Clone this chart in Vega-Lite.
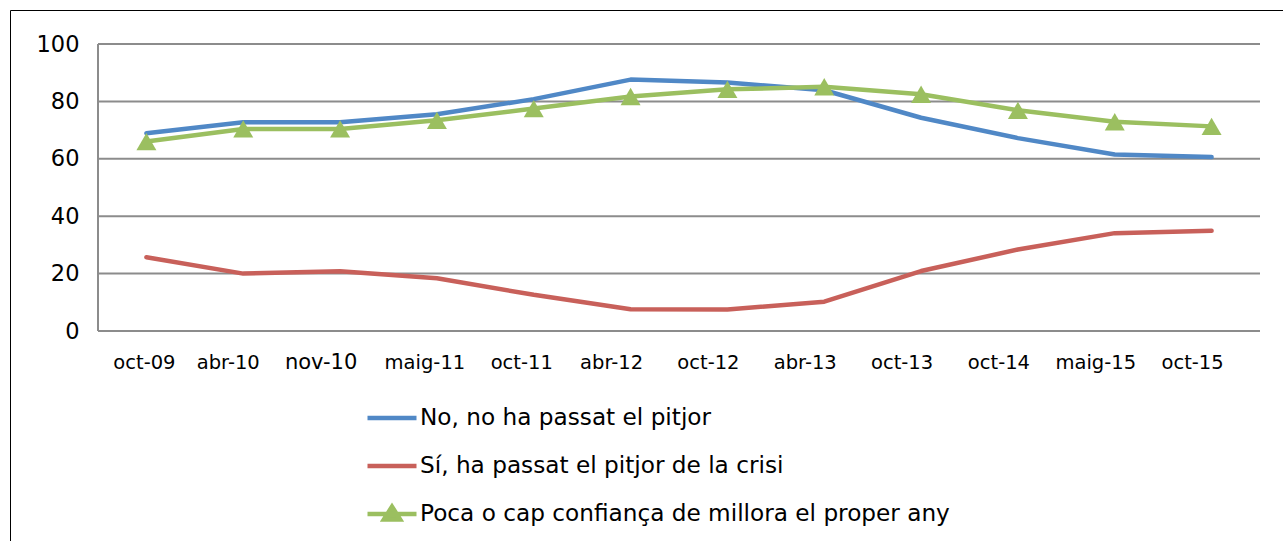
{
  "$schema": "https://vega.github.io/schema/vega-lite/v6.json",
  "width": 1274,
  "height": 532,
  "autosize": "none",
  "padding": {"left": 10, "top": 10, "right": -1, "bottom": -1},
  "background": "white",
  "config": {
    "view": {"stroke": "#000000", "strokeWidth": 1},
    "font": "DejaVu Sans"
  },
  "datasets": {
    "series": [
      {"periode": "oct-09", "serie": "No, no ha passat el pitjor", "valor": 68.9},
      {"periode": "abr-10", "serie": "No, no ha passat el pitjor", "valor": 72.7},
      {"periode": "nov-10", "serie": "No, no ha passat el pitjor", "valor": 72.7},
      {"periode": "maig-11", "serie": "No, no ha passat el pitjor", "valor": 75.5},
      {"periode": "oct-11", "serie": "No, no ha passat el pitjor", "valor": 80.8},
      {"periode": "abr-12", "serie": "No, no ha passat el pitjor", "valor": 87.6},
      {"periode": "oct-12", "serie": "No, no ha passat el pitjor", "valor": 86.6},
      {"periode": "abr-13", "serie": "No, no ha passat el pitjor", "valor": 83.9},
      {"periode": "oct-13", "serie": "No, no ha passat el pitjor", "valor": 74.3},
      {"periode": "oct-14", "serie": "No, no ha passat el pitjor", "valor": 67.2},
      {"periode": "maig-15", "serie": "No, no ha passat el pitjor", "valor": 61.5},
      {"periode": "oct-15", "serie": "No, no ha passat el pitjor", "valor": 60.6},
      {"periode": "oct-09", "serie": "Sí, ha passat el pitjor de la crisi", "valor": 25.7},
      {"periode": "abr-10", "serie": "Sí, ha passat el pitjor de la crisi", "valor": 20.0},
      {"periode": "nov-10", "serie": "Sí, ha passat el pitjor de la crisi", "valor": 20.8},
      {"periode": "maig-11", "serie": "Sí, ha passat el pitjor de la crisi", "valor": 18.4},
      {"periode": "oct-11", "serie": "Sí, ha passat el pitjor de la crisi", "valor": 12.6},
      {"periode": "abr-12", "serie": "Sí, ha passat el pitjor de la crisi", "valor": 7.6},
      {"periode": "oct-12", "serie": "Sí, ha passat el pitjor de la crisi", "valor": 7.5},
      {"periode": "abr-13", "serie": "Sí, ha passat el pitjor de la crisi", "valor": 10.2},
      {"periode": "oct-13", "serie": "Sí, ha passat el pitjor de la crisi", "valor": 20.9},
      {"periode": "oct-14", "serie": "Sí, ha passat el pitjor de la crisi", "valor": 28.4},
      {"periode": "maig-15", "serie": "Sí, ha passat el pitjor de la crisi", "valor": 34.1},
      {"periode": "oct-15", "serie": "Sí, ha passat el pitjor de la crisi", "valor": 34.9},
      {"periode": "oct-09", "serie": "Poca o cap confiança de millora el proper any", "valor": 66.0},
      {"periode": "abr-10", "serie": "Poca o cap confiança de millora el proper any", "valor": 70.4},
      {"periode": "nov-10", "serie": "Poca o cap confiança de millora el proper any", "valor": 70.4},
      {"periode": "maig-11", "serie": "Poca o cap confiança de millora el proper any", "valor": 73.4},
      {"periode": "oct-11", "serie": "Poca o cap confiança de millora el proper any", "valor": 77.5},
      {"periode": "abr-12", "serie": "Poca o cap confiança de millora el proper any", "valor": 81.7},
      {"periode": "oct-12", "serie": "Poca o cap confiança de millora el proper any", "valor": 84.2},
      {"periode": "abr-13", "serie": "Poca o cap confiança de millora el proper any", "valor": 85.1},
      {"periode": "oct-13", "serie": "Poca o cap confiança de millora el proper any", "valor": 82.5},
      {"periode": "oct-14", "serie": "Poca o cap confiança de millora el proper any", "valor": 76.9},
      {"periode": "maig-15", "serie": "Poca o cap confiança de millora el proper any", "valor": 72.9},
      {"periode": "oct-15", "serie": "Poca o cap confiança de millora el proper any", "valor": 71.3}
    ],
    "grid": [{"v": 0}, {"v": 20}, {"v": 40}, {"v": 60}, {"v": 80}, {"v": 100}]
  },
  "layer": [
    {
      "data": {"name": "grid"},
      "mark": {"type": "rule", "color": "#8C8C8C", "strokeWidth": 2},
      "encoding": {
        "x": {"datum": "oct-09", "type": "ordinal", "bandPosition": 0},
        "x2": {"datum": "oct-15", "bandPosition": 1},
        "y": {
          "field": "v",
          "type": "quantitative",
          "scale": {"domain": [-73.52, 111.85], "nice": false, "zero": false},
          "axis": {
            "orient": "left",
            "offset": -88,
            "title": null,
            "values": [0, 20, 40, 60, 80, 100],
            "domain": false,
            "ticks": false,
            "tickSize": 0,
            "grid": false,
            "labelPadding": 19,
            "labelColor": "#000000",
            "labelFont": "DejaVu Sans",
            "labelFontSize": 22.5
          }
        }
      }
    },
    {
      "data": {"values": [{"a": 0, "b": 100}]},
      "mark": {"type": "rule", "color": "#8C8C8C", "strokeWidth": 2},
      "encoding": {
        "x": {"datum": "oct-09", "type": "ordinal", "bandPosition": 0},
        "y": {"field": "a", "type": "quantitative", "title": null},
        "y2": {"field": "b"}
      }
    },
    {
      "data": {"name": "series"},
      "mark": {"type": "line", "strokeWidth": 4.5, "strokeCap": "round", "strokeJoin": "round"},
      "encoding": {
        "x": {
          "field": "periode",
          "type": "ordinal",
          "bandPosition": 0.5,
          "scale": {
            "type": "band",
            "domain": ["oct-09", "abr-10", "nov-10", "maig-11", "oct-11", "abr-12", "oct-12", "abr-13", "oct-13", "oct-14", "maig-15", "oct-15"],
            "paddingInner": 0,
            "paddingOuter": 0.5783,
            "align": 0.7857
          },
          "axis": {
            "orient": "bottom",
            "offset": -211,
            "bandPosition": 0.5,
            "title": null,
            "domain": false,
            "ticks": false,
            "tickSize": 0,
            "grid": false,
            "labelAngle": 0,
            "labelAlign": "center",
            "labelPadding": 31,
            "labelColor": "#000000",
            "labelFont": "DejaVu Sans",
            "labelFontSize": {"condition": {"test": "datum.value === 'nov-10'", "value": 21}, "value": 19.5},
            "labelOffset": {
              "condition": [
                {"test": "datum.value === 'oct-09'", "value": -2},
                {"test": "datum.value === 'abr-10'", "value": -15},
                {"test": "datum.value === 'maig-11' || datum.value === 'oct-11'", "value": -12}
              ],
              "value": -19
            }
          }
        },
        "y": {"field": "valor", "type": "quantitative", "title": null},
        "color": {
          "field": "serie",
          "type": "nominal",
          "scale": {
            "domain": ["No, no ha passat el pitjor", "Sí, ha passat el pitjor de la crisi", "Poca o cap confiança de millora el proper any"],
            "range": ["#5088C6", "#C8605A", "#9BBF60"]
          },
          "legend": {
            "orient": "none",
            "legendX": 355,
            "legendY": 381,
            "direction": "vertical",
            "title": null,
            "padding": 0,
            "rowPadding": 9,
            "labelOffset": 1,
            "labelFont": "DejaVu Sans",
            "labelFontSize": 23.2,
            "labelColor": "#000000",
            "labelLimit": 800,
            "symbolSize": 2401,
            "symbolStrokeWidth": 4.5,
            "symbolType": "M-1,0H1",
            "encode": {
              "symbols": {
                "update": {
                  "shape": {"signal": "datum.value === 'Poca o cap confiança de millora el proper any' ? 'M-1,0H1M-0.33,0.22L0,-0.3L0.33,0.22Z' : 'M-1,0H1'"},
                  "fill": {"value": "#9BBF60"},
                  "strokeWidth": {"value": 4.5}
                }
              }
            }
          }
        }
      }
    },
    {
      "data": {"name": "series"},
      "transform": [{"filter": "datum.serie === 'Poca o cap confiança de millora el proper any'"}],
      "mark": {"type": "point", "shape": "triangle-up", "filled": true, "size": 400, "opacity": 1, "color": "#9BBF60"},
      "encoding": {
        "x": {"field": "periode", "type": "ordinal", "bandPosition": 0.5},
        "y": {"field": "valor", "type": "quantitative"}
      }
    }
  ]
}
